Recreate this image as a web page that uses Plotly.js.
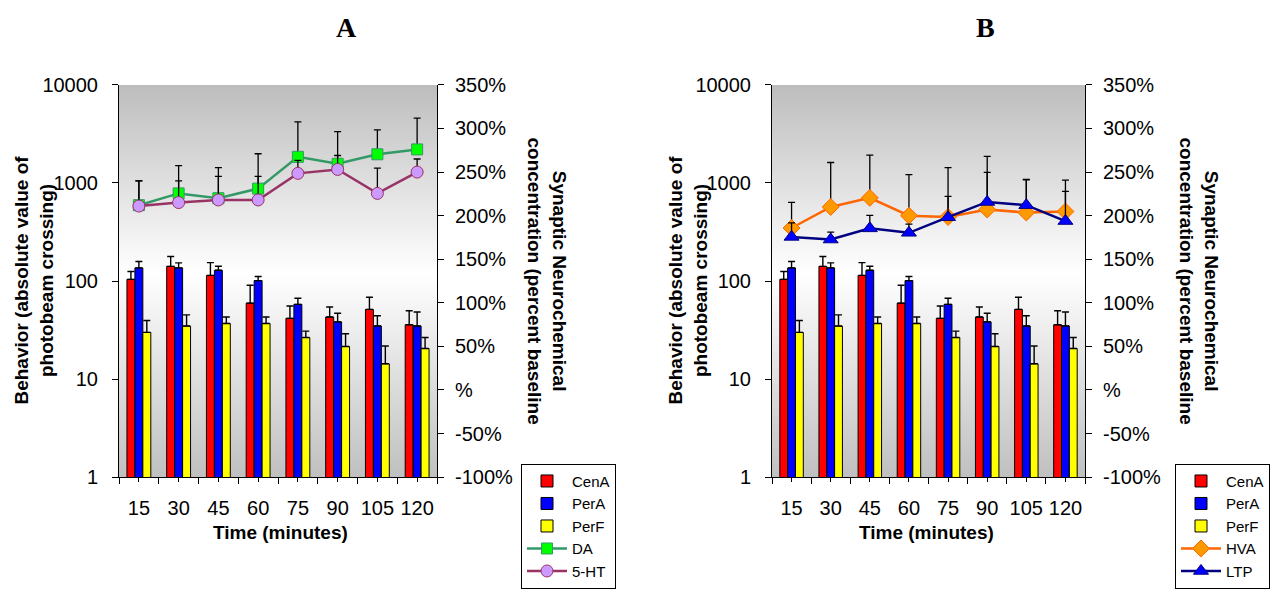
<!DOCTYPE html>
<html>
<head>
<meta charset="utf-8">
<script src="https://cdn.plot.ly/plotly-3.0.1.min.js"></script>
<style>html,body{margin:0;padding:0;background:#fff}#chart{width:1281px;height:589px}</style>
</head>
<body>
<div id="chart"></div>
<script>
// ---- data ----
const times = [15, 30, 45, 60, 75, 90, 105, 120];
const timeLabels = ['15', '30', '45', '60', '75', '90', '105', '120'];

const cenA    = [104, 141, 114, 59.5, 41.6, 42.9, 51.3, 35.8];
const cenAErr = [21, 37, 40, 31, 14, 11.4, 17, 14];
const perA    = [136, 136, 128.5, 101, 57.8, 38.3, 34.8, 34.8];
const perAErr = [22, 17, 13, 10, 9, 8.6, 9.4, 13.5];
const perF    = [29.9, 34.7, 36.9, 36.9, 26.5, 21.5, 14.3, 20.5];
const perFErr = [9.6, 10.4, 6, 6, 4.3, 7.5, 7.4, 6];

const da      = [212, 225.5, 220, 231, 267.5, 259.5, 270.4, 276];
const daErr   = [28, 32, 35, 40, 40, 37, 28, 36];
const ht5     = [211, 215, 218, 218, 248.5, 253, 225.5, 250];
const ht5Err  = [29, 25, 27, 27, 15, 16, 29, 15];

const hva     = [185.8, 210, 220.4, 200, 198.5, 207, 203.6, 204.7];
const hvaErr  = [29.5, 51, 49, 47, 56.5, 61, 38, 36];
const ltp     = [175.6, 172.6, 185.4, 180.3, 198.2, 215.7, 212, 193.8];
const ltpErr  = [16, 8.5, 15, 10, 24, 34, 29, 34];

const leftTickVals = [1, 10, 100, 1000, 10000];
const leftTickText = ['1', '10', '100', '1000', '10000'];
const rightTickVals = [-100, -50, 0, 50, 100, 150, 200, 250, 300, 350];
const rightTickText = ['-100%', '-50%', '%', '50%', '100%', '150%', '200%', '250%', '300%', '350%'];

// ---- helpers ----
const FONT = 'Liberation Sans, Arial, sans-serif';
const zeros = times.map(() => 0);
function errs(arr, thick) {
  return {type: 'data', array: arr, arrayminus: zeros, symmetric: false,
          visible: true, color: '#000', thickness: thick || 1.4, width: 3.5};
}
function bar(name, y, e, color, xa, ya, legend) {
  return {type: 'bar', name: name, x: times, y: y, xaxis: xa, yaxis: ya,
          marker: {color: color, line: {color: '#000', width: 1}},
          error_y: errs(e), legend: legend, hoverinfo: 'skip'};
}
function line(name, y, e, lineColor, mSym, mFill, mSize, xa, ya, legend) {
  return {type: 'scatter', mode: 'lines+markers', name: name, x: times, y: y,
          xaxis: xa, yaxis: ya, legend: legend,
          line: {color: lineColor, width: 2.5},
          marker: {symbol: mSym, color: mFill, size: mSize, line: {color: lineColor, width: 1}},
          error_y: errs(e, 1.3), hoverinfo: 'skip'};
}

const traces = [
  bar('CenA', cenA, cenAErr, '#ff0000', 'x', 'y', 'legend'),
  bar('PerA', perA, perAErr, '#0000ff', 'x', 'y', 'legend'),
  bar('PerF', perF, perFErr, '#ffff00', 'x', 'y', 'legend'),
  line('DA', da, daErr, '#339966', 'square', '#00ff00', 11, 'x', 'y2', 'legend'),
  line('5-HT', ht5, ht5Err, '#993366', 'circle', '#cc99ff', 12, 'x', 'y2', 'legend'),
  bar('CenA', cenA, cenAErr, '#ff0000', 'x2', 'y3', 'legend2'),
  bar('PerA', perA, perAErr, '#0000ff', 'x2', 'y3', 'legend2'),
  bar('PerF', perF, perFErr, '#ffff00', 'x2', 'y3', 'legend2'),
  line('HVA', hva, hvaErr, '#ff6600', 'diamond', '#ff9900', 13, 'x2', 'y4', 'legend2'),
  line('LTP', ltp, ltpErr, '#000080', 'triangle-up', '#0000ff', 13, 'x2', 'y4', 'legend2')
];

const W = 1281, H = 589;
const px = v => v / W;
const py = v => (H - v) / H;
const yDom = [py(500), py(89)];

function xAxis(dom, anchor) {
  return {domain: dom, anchor: anchor, type: 'linear', range: [7.5, 127.5],
          tickvals: times, ticktext: timeLabels, ticks: 'outside', ticklen: 4,
          tickcolor: '#000', showline: true, linecolor: '#000', linewidth: 1,
          showgrid: false, zeroline: false, ticklabelstandoff: 9,
          tickfont: {family: FONT, size: 20, color: '#000'},
          minor: {tickvals: [7.5, 22.5, 37.5, 52.5, 67.5, 82.5, 97.5, 112.5, 127.5],
                  ticks: 'outside', ticklen: 6, tickcolor: '#000'}};
}
function leftAxis(anchor) {
  return {domain: yDom, anchor: anchor, type: 'log', range: [0, 4],
          tickvals: leftTickVals, ticktext: leftTickText, ticks: 'outside', ticklen: 6,
          tickcolor: '#000', showline: true, linecolor: '#000', linewidth: 1,
          showgrid: false, zeroline: false, ticklabelstandoff: 10,
          tickfont: {family: FONT, size: 20, color: '#000'}};
}
function rightAxis(over, anchor) {
  return {overlaying: over, anchor: anchor, side: 'right', range: [-100, 350],
          tickvals: rightTickVals, ticktext: rightTickText, ticks: 'outside', ticklen: 6,
          tickcolor: '#000', showline: true, linecolor: '#000', linewidth: 1,
          showgrid: false, zeroline: false, ticklabelstandoff: 7,
          tickfont: {family: FONT, size: 20, color: '#000'}};
}

const svg = "<svg xmlns='http://www.w3.org/2000/svg' width='100' height='100' preserveAspectRatio='none'>" +
  "<defs><linearGradient id='g' x1='0' y1='0' x2='0' y2='1'>" +
  "<stop offset='0' stop-color='#bdbdbd'/><stop offset='0.48' stop-color='#ffffff'/>" +
  "<stop offset='1' stop-color='#c0c0c0'/></linearGradient></defs>" +
  "<rect width='100' height='100' fill='url(#g)'/></svg>";
const bgSrc = 'data:image/svg+xml;charset=utf-8,' + encodeURIComponent(svg);
function bg(xr, yr) {
  return {source: bgSrc, xref: xr, yref: yr, x: 0, y: 1, sizex: 1, sizey: 1,
          xanchor: 'left', yanchor: 'top', sizing: 'stretch', layer: 'below'};
}

function ann(text, x, y, size, angle, family) {
  return {text: text, x: px(x), y: py(y), xref: 'paper', yref: 'paper',
          xanchor: 'center', yanchor: 'middle', showarrow: false, textangle: angle || 0,
          font: {family: family || FONT, size: size, color: '#000'}};
}

const legendStyle = {
  xanchor: 'left', yanchor: 'top', bgcolor: '#fff', bordercolor: '#000', borderwidth: 1,
  font: {family: FONT, size: 15, color: '#000'}, tracegroupgap: 0, itemwidth: 40
};

const layout = {
  width: W, height: H,
  margin: {l: 0, r: 0, t: 0, b: 0},
  paper_bgcolor: '#fff', plot_bgcolor: '#fff',
  barmode: 'group', bargap: 0.4, bargroupgap: 0,
  showlegend: true,
  xaxis: xAxis([px(119), px(437)], 'y'),
  yaxis: leftAxis('x'),
  yaxis2: rightAxis('y', 'x'),
  xaxis2: xAxis([px(772), px(1085)], 'y3'),
  yaxis3: leftAxis('x2'),
  yaxis4: rightAxis('y3', 'x2'),
  legend: Object.assign({x: px(521), y: py(486)}, legendStyle),
  legend2: Object.assign({x: px(1175), y: py(486)}, legendStyle),
  images: [bg('x domain', 'y domain'), bg('x2 domain', 'y3 domain')],
  annotations: [
    ann('<b>A</b>', 346, 29, 28, 0, 'Liberation Serif, Times New Roman, serif'),
    ann('<b>B</b>', 985, 29, 28, 0, 'Liberation Serif, Times New Roman, serif'),
    ann('<b>Behavior (absolute value of<br>photobeam crossing)</b>', 34, 294, 19, -90),
    ann('<b>Synaptic Neurochemical<br>concentration (percent baseline</b>', 547, 294, 19, 90),
    ann('<b>Behavior (absolute value of<br>photobeam crossing)</b>', 688, 294, 19, -90),
    ann('<b>Synaptic Neurochemical<br>concentration (percent baseline</b>', 1199, 294, 19, 90),
    ann('<b>Time (minutes)</b>', 280, 558, 19, 0),
    ann('<b>Time (minutes)</b>', 926, 558, 19, 0)
  ]
};

Plotly.newPlot('chart', traces, layout, {staticPlot: true, displayModeBar: false});
</script>
</body>
</html>
